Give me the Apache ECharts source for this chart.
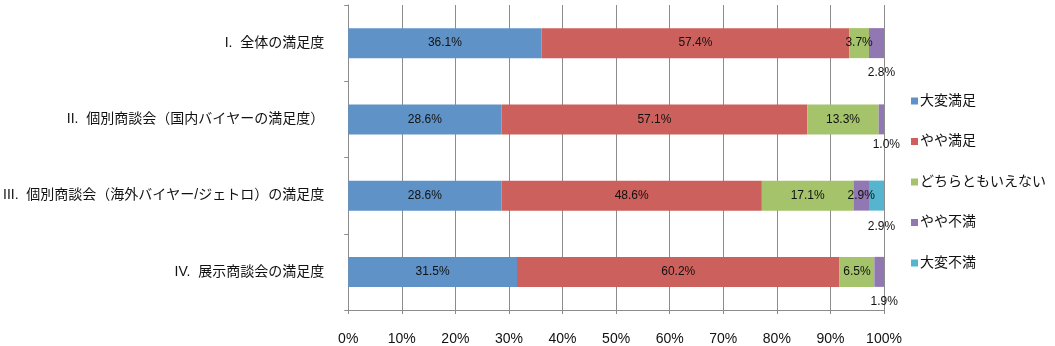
<!DOCTYPE html>
<html>
<head>
<meta charset="utf-8">
<script src="https://cdn.jsdelivr.net/npm/echarts@6/dist/echarts.min.js"></script>
<style>
  html, body { margin: 0; padding: 0; background: #fff; }
  #chart { width: 1055px; height: 346px; }
</style>
</head>
<body>
<div id="chart"></div>
<script>
// Survey categories (top to bottom)
const categories = [
  'I.  全体の満足度',
  'II.  個別商談会（国内バイヤーの満足度）',
  'III.  個別商談会（海外バイヤー/ジェトロ）の満足度',
  'IV.  展示商談会の満足度'
];

// Satisfaction levels, share of responses in percent
const seriesNames = ['大変満足', 'やや満足', 'どちらともいえない', 'やや不満', '大変不満'];
const veryGood   = [36.1, 28.6, 28.6, 31.5];
const good       = [57.4, 57.1, 48.6, 60.2];
const neutral    = [3.7, 13.3, 17.1, 6.5];
const bad        = [2.8, 1.0, 2.9, 1.9];
const veryBad    = [0, 0, 2.9, 0];

const xTicks = [0, 10, 20, 30, 40, 50, 60, 70, 80, 90, 100];

const colors = ['#5F93C7', '#CC605C', '#A4C36A', '#9278B2', '#55B5CF'];

// Narrow segments whose value label sits under the bar: [seriesIndex, dataIndex, yOffset]
const labelsBelow = [[3, 0, 2], [3, 1, -3], [4, 2, 3], [3, 3, 2]];

const allValues = [veryGood, good, neutral, bad, veryBad];

const font = '"Liberation Sans", "Noto Sans CJK JP", sans-serif';

const series = allValues.map((vals, si) => ({
  name: seriesNames[si],
  type: 'bar',
  stack: 'total',
  barWidth: 30,
  itemStyle: { color: colors[si] },
  label: {
    show: true,
    position: 'inside',
    color: '#111',
    fontSize: 12,
    fontFamily: font,
    formatter: p => p.value > 0 ? p.value.toFixed(1) + '%' : ''
  },
  data: vals.map((v, di) => {
    const below = labelsBelow.find(b => b[0] === si && b[1] === di);
    if (below) {
      return {
        value: v,
        label: { position: 'bottom', distance: 7, offset: [5, below[2]] }
      };
    }
    return { value: v, label: { show: v > 0 } };
  })
}));

const chart = echarts.init(document.getElementById('chart'), null, { renderer: 'canvas' });
chart.setOption({
  animation: false,
  backgroundColor: '#fff',
  grid: { left: 343, right: 171, top: 5, bottom: 34, containLabel: false },
  legend: {
    orient: 'vertical',
    left: 906,
    top: 89,
    itemWidth: 7,
    itemHeight: 7,
    itemGap: 26.5,
    icon: 'rect',
    textStyle: { fontSize: 14, color: '#111', fontFamily: font, padding: [0, 0, 0, -3] },
    data: seriesNames
  },
  xAxis: {
    type: 'value',
    min: xTicks[0],
    max: xTicks[xTicks.length - 1],
    interval: 10,
    axisLine: { show: true, lineStyle: { color: '#8c8c8c', width: 1 } },
    axisTick: { show: true, length: 4, lineStyle: { color: '#8c8c8c' } },
    axisLabel: {
      margin: 22,
      fontSize: 14,
      color: '#111',
      fontFamily: font,
      formatter: '{value}%'
    },
    splitLine: { show: true, lineStyle: { color: '#8c8c8c', width: 1 } }
  },
  yAxis: {
    type: 'category',
    inverse: true,
    data: categories,
    axisLine: { show: true, lineStyle: { color: '#8c8c8c', width: 1 } },
    axisTick: { show: true, length: 4, lineStyle: { color: '#8c8c8c' } },
    axisLabel: { margin: 24, fontSize: 14, color: '#111', fontFamily: font }
  },
  series: series
});
</script>
</body>
</html>
